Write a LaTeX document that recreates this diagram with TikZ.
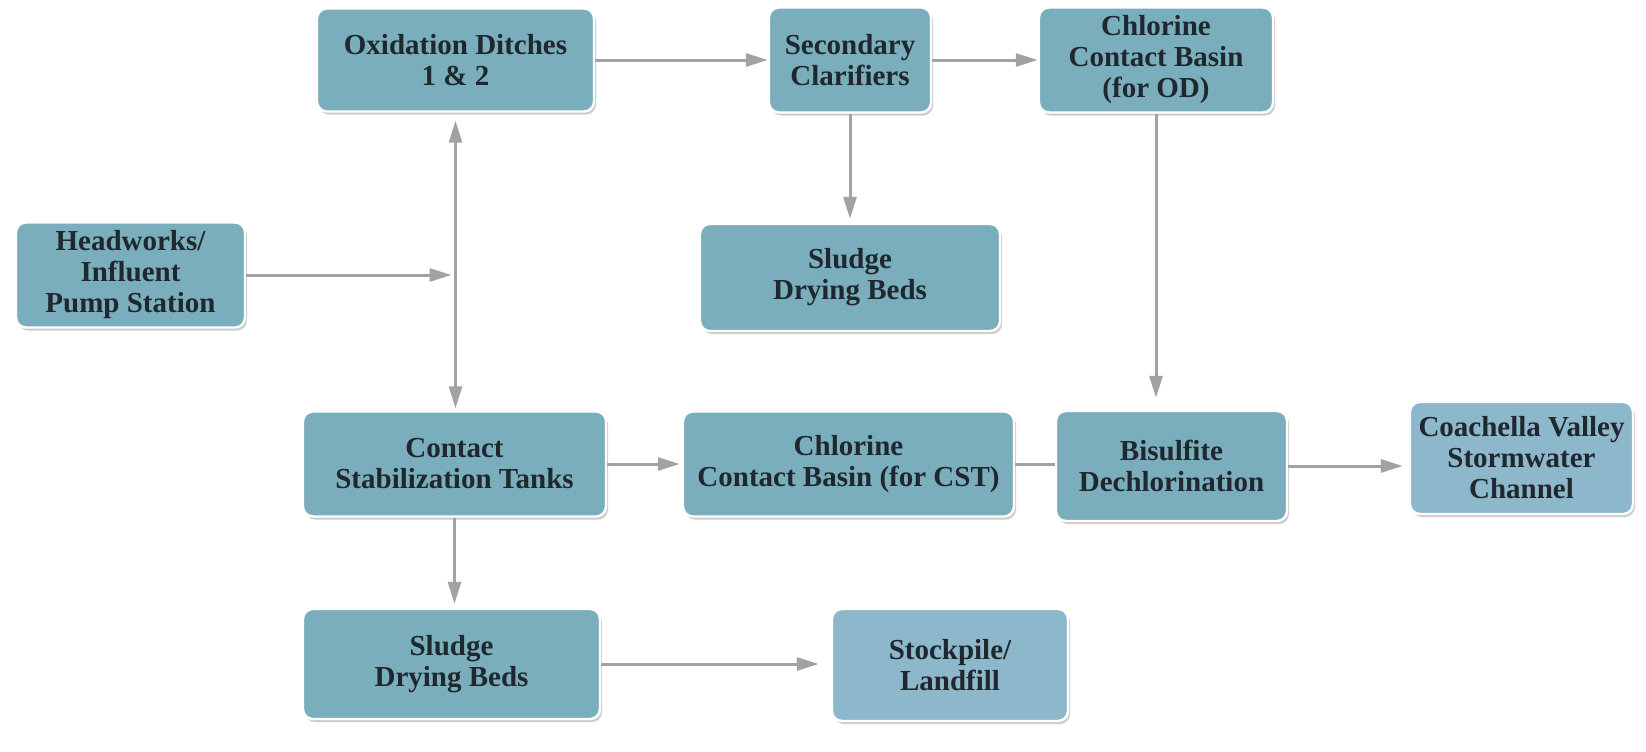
\documentclass[tikz,border=0pt]{standalone}
\usepackage{fontspec}
\setmainfont{Liberation Serif}
\usetikzlibrary{arrows.meta, shadows}
\definecolor{boxteal}{RGB}{123,174,188}
\definecolor{boxblue}{RGB}{141,184,204}
\definecolor{flowgray}{RGB}{160,162,166}
\definecolor{inkdark}{RGB}{30,40,46}
\tikzset{>={Triangle[length=11pt, width=6.5pt]}}
\tikzset{
  unit/.style={draw=white, line width=1.2pt, fill=boxteal, rounded corners=5pt,
    align=center, text=inkdark, inner sep=0pt,
    font=\rmfamily\bfseries\fontsize{14.5}{15.5}\selectfont,
    drop shadow={shadow xshift=1pt, shadow yshift=-1.5pt, opacity=0.4, fill=black!50}},
  outlet/.style={unit, fill=boxblue}
}

\begin{document}
\begin{tikzpicture}[x=0.5pt, y=-0.5pt]
\useasboundingbox (0,0) rectangle (1646,751);

\node[unit, minimum width=138.5pt, minimum height=51.5pt] (oxd) at (455.5,60) {Oxidation Ditches\\1 \& 2};
\node[unit, minimum width=81pt, minimum height=52.5pt] (sec) at (850,60) {Secondary\\Clarifiers};
\node[unit, minimum width=117pt, minimum height=52.5pt] (clod) at (1156,60) {Chlorine\\Contact Basin\\(for OD)};
\node[unit, minimum width=114.5pt, minimum height=52.5pt] (head) at (130.5,275) {Headworks/\\Influent\\Pump Station};
\node[unit, minimum width=150pt, minimum height=53.5pt] (sdbA) at (850,277.5) {Sludge\\Drying Beds};
\node[unit, minimum width=151.5pt, minimum height=52.5pt] (cst) at (454.5,464) {Contact\\Stabilization Tanks};
\node[unit, minimum width=165.5pt, minimum height=52.5pt] (clcst) at (848.5,464) {Chlorine\\Contact Basin (for CST)};
\node[unit, minimum width=115.5pt, minimum height=55pt] (bis) at (1171.5,466) {Bisulfite\\Dechlorination};
\node[outlet, minimum width=111.5pt, minimum height=56pt] (cvsc) at (1521.5,458) {Coachella Valley\\Stormwater\\Channel};
\node[unit, minimum width=148.5pt, minimum height=55pt] (sdbB) at (451.5,664) {Sludge\\Drying Beds};
\node[outlet, minimum width=118pt, minimum height=56pt] (stock) at (950,665) {Stockpile/\\Landfill};

\coordinate (jn) at (oxd.south |- head.east);

\path[->, flowgray, line width=1.5pt]
(oxd.east) edge (oxd.east -| sec.west)
(sec.east) edge (sec.east -| clod.west)
(sec.south) edge[shorten >=2pt] (sec.south |- sdbA.north)
(clod.south) edge[shorten >=6pt] (clod.south |- bis.north)
(cst.east) edge[shorten >=1pt] (cst.east -| clcst.west)
(bis.east) edge[shorten >=3pt] (bis.east -| cvsc.west)
(cst.south) edge[shorten >=2pt] (cst.south |- sdbB.north)
(sdbB.east) edge[shorten >=6pt] (sdbB.east -| stock.west)
(head.east) edge[shorten >=2pt] (jn)
(oxd.south) edge[<->, shorten <=4pt, shorten >=1pt] (oxd.south |- cst.north)
;
\draw[flowgray, line width=1.5pt] (clcst.east) -- (clcst.east -| bis.west);
\end{tikzpicture}
\end{document}
